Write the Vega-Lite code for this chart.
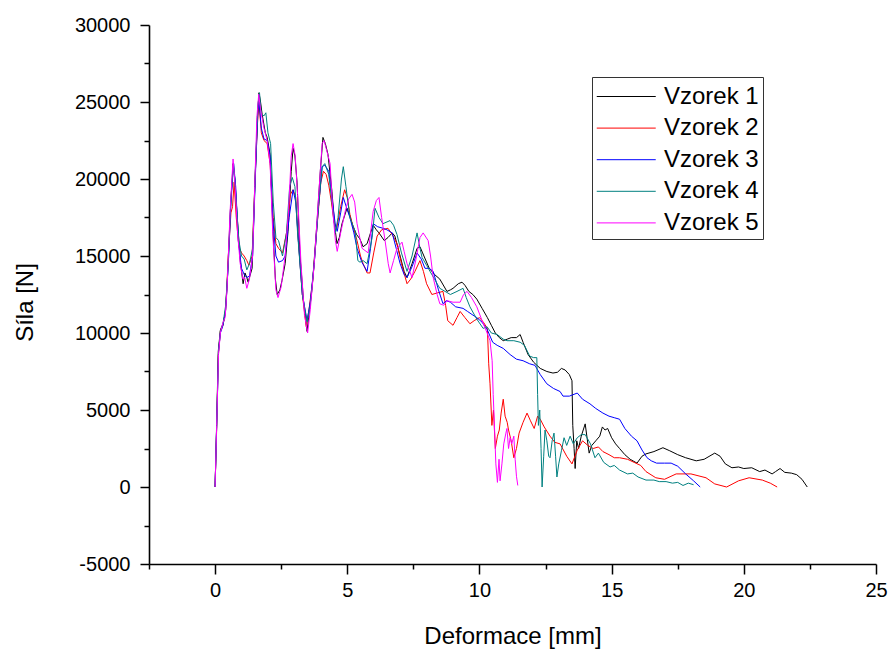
{
"$schema":"https://vega.github.io/schema/vega-lite/v6.json",
"width":727,"height":539,
"autosize":{"type":"none"},
"padding":{"left":149,"top":25,"right":15,"bottom":86},
"background":"white",
"config":{"view":{"stroke":null},"font":"Liberation Sans"},
"data":{"values":[
{"s":"Vzorek 1","x":0,"y":0},{"s":"Vzorek 1","x":0.06,"y":4200},{"s":"Vzorek 1","x":0.12,"y":8800},{"s":"Vzorek 1","x":0.2,"y":10200},{"s":"Vzorek 1","x":0.3,"y":10600},{"s":"Vzorek 1","x":0.38,"y":11200},{"s":"Vzorek 1","x":0.45,"y":12900},{"s":"Vzorek 1","x":0.57,"y":17700},{"s":"Vzorek 1","x":0.68,"y":21000},{"s":"Vzorek 1","x":0.75,"y":20000},{"s":"Vzorek 1","x":0.83,"y":17700},{"s":"Vzorek 1","x":0.95,"y":14700},{"s":"Vzorek 1","x":1.06,"y":13200},{"s":"Vzorek 1","x":1.13,"y":13900},{"s":"Vzorek 1","x":1.2,"y":13600},{"s":"Vzorek 1","x":1.25,"y":13300},{"s":"Vzorek 1","x":1.4,"y":14200},{"s":"Vzorek 1","x":1.51,"y":19800},{"s":"Vzorek 1","x":1.6,"y":24000},{"s":"Vzorek 1","x":1.66,"y":25600},{"s":"Vzorek 1","x":1.72,"y":25000},{"s":"Vzorek 1","x":1.78,"y":24200},{"s":"Vzorek 1","x":1.9,"y":23000},{"s":"Vzorek 1","x":1.97,"y":22700},{"s":"Vzorek 1","x":2.08,"y":21600},{"s":"Vzorek 1","x":2.19,"y":16600},{"s":"Vzorek 1","x":2.28,"y":13500},{"s":"Vzorek 1","x":2.35,"y":12500},{"s":"Vzorek 1","x":2.45,"y":12800},{"s":"Vzorek 1","x":2.53,"y":13400},{"s":"Vzorek 1","x":2.65,"y":14500},{"s":"Vzorek 1","x":2.76,"y":16600},{"s":"Vzorek 1","x":2.88,"y":20500},{"s":"Vzorek 1","x":2.95,"y":22000},{"s":"Vzorek 1","x":3.02,"y":21500},{"s":"Vzorek 1","x":3.1,"y":19800},{"s":"Vzorek 1","x":3.21,"y":15100},{"s":"Vzorek 1","x":3.35,"y":12000},{"s":"Vzorek 1","x":3.48,"y":10100},{"s":"Vzorek 1","x":3.57,"y":11500},{"s":"Vzorek 1","x":3.67,"y":12900},{"s":"Vzorek 1","x":3.86,"y":17300},{"s":"Vzorek 1","x":3.98,"y":20500},{"s":"Vzorek 1","x":4.08,"y":22700},{"s":"Vzorek 1","x":4.17,"y":22300},{"s":"Vzorek 1","x":4.27,"y":21600},{"s":"Vzorek 1","x":4.42,"y":19200},{"s":"Vzorek 1","x":4.52,"y":17000},{"s":"Vzorek 1","x":4.61,"y":15800},{"s":"Vzorek 1","x":4.7,"y":16200},{"s":"Vzorek 1","x":4.8,"y":17100},{"s":"Vzorek 1","x":4.99,"y":18100},{"s":"Vzorek 1","x":5.1,"y":17600},{"s":"Vzorek 1","x":5.2,"y":17000},{"s":"Vzorek 1","x":5.35,"y":16400},{"s":"Vzorek 1","x":5.48,"y":16100},{"s":"Vzorek 1","x":5.6,"y":15600},{"s":"Vzorek 1","x":5.75,"y":15800},{"s":"Vzorek 1","x":5.88,"y":16500},{"s":"Vzorek 1","x":5.98,"y":17000},{"s":"Vzorek 1","x":6.1,"y":16700},{"s":"Vzorek 1","x":6.2,"y":16500},{"s":"Vzorek 1","x":6.4,"y":16000},{"s":"Vzorek 1","x":6.54,"y":16200},{"s":"Vzorek 1","x":6.7,"y":16500},{"s":"Vzorek 1","x":6.8,"y":16300},{"s":"Vzorek 1","x":7.0,"y":15000},{"s":"Vzorek 1","x":7.15,"y":14000},{"s":"Vzorek 1","x":7.26,"y":13600},{"s":"Vzorek 1","x":7.45,"y":14500},{"s":"Vzorek 1","x":7.64,"y":15500},{"s":"Vzorek 1","x":7.75,"y":15600},{"s":"Vzorek 1","x":7.85,"y":15200},{"s":"Vzorek 1","x":8.1,"y":14200},{"s":"Vzorek 1","x":8.3,"y":13800},{"s":"Vzorek 1","x":8.5,"y":13500},{"s":"Vzorek 1","x":8.77,"y":12700},{"s":"Vzorek 1","x":8.9,"y":12800},{"s":"Vzorek 1","x":9.0,"y":12900},{"s":"Vzorek 1","x":9.2,"y":13200},{"s":"Vzorek 1","x":9.34,"y":13300},{"s":"Vzorek 1","x":9.45,"y":13100},{"s":"Vzorek 1","x":9.6,"y":12700},{"s":"Vzorek 1","x":9.75,"y":12500},{"s":"Vzorek 1","x":9.9,"y":12200},{"s":"Vzorek 1","x":10.1,"y":11600},{"s":"Vzorek 1","x":10.3,"y":11000},{"s":"Vzorek 1","x":10.45,"y":10500},{"s":"Vzorek 1","x":10.6,"y":10000},{"s":"Vzorek 1","x":10.75,"y":9700},{"s":"Vzorek 1","x":10.9,"y":9500},{"s":"Vzorek 1","x":11.05,"y":9600},{"s":"Vzorek 1","x":11.2,"y":9700},{"s":"Vzorek 1","x":11.4,"y":9700},{"s":"Vzorek 1","x":11.54,"y":9900},{"s":"Vzorek 1","x":11.65,"y":9400},{"s":"Vzorek 1","x":11.84,"y":8600},{"s":"Vzorek 1","x":12.05,"y":8100},{"s":"Vzorek 1","x":12.3,"y":7700},{"s":"Vzorek 1","x":12.55,"y":7500},{"s":"Vzorek 1","x":12.78,"y":7400},{"s":"Vzorek 1","x":12.95,"y":7450},{"s":"Vzorek 1","x":13.1,"y":7700},{"s":"Vzorek 1","x":13.24,"y":7600},{"s":"Vzorek 1","x":13.4,"y":7300},{"s":"Vzorek 1","x":13.5,"y":6900},{"s":"Vzorek 1","x":13.53,"y":4000},{"s":"Vzorek 1","x":13.58,"y":2500},{"s":"Vzorek 1","x":13.62,"y":1200},{"s":"Vzorek 1","x":13.68,"y":3000},{"s":"Vzorek 1","x":13.75,"y":2500},{"s":"Vzorek 1","x":13.85,"y":3300},{"s":"Vzorek 1","x":14.0,"y":4100},{"s":"Vzorek 1","x":14.07,"y":3200},{"s":"Vzorek 1","x":14.15,"y":2200},{"s":"Vzorek 1","x":14.25,"y":2700},{"s":"Vzorek 1","x":14.4,"y":3000},{"s":"Vzorek 1","x":14.55,"y":3300},{"s":"Vzorek 1","x":14.65,"y":3900},{"s":"Vzorek 1","x":14.75,"y":3700},{"s":"Vzorek 1","x":14.85,"y":3800},{"s":"Vzorek 1","x":15.0,"y":3200},{"s":"Vzorek 1","x":15.15,"y":2800},{"s":"Vzorek 1","x":15.3,"y":2500},{"s":"Vzorek 1","x":15.5,"y":2100},{"s":"Vzorek 1","x":15.7,"y":1800},{"s":"Vzorek 1","x":15.96,"y":1550},{"s":"Vzorek 1","x":16.15,"y":2000},{"s":"Vzorek 1","x":16.3,"y":2150},{"s":"Vzorek 1","x":16.6,"y":2300},{"s":"Vzorek 1","x":16.94,"y":2550},{"s":"Vzorek 1","x":17.2,"y":2350},{"s":"Vzorek 1","x":17.5,"y":2100},{"s":"Vzorek 1","x":17.8,"y":1900},{"s":"Vzorek 1","x":18.2,"y":1700},{"s":"Vzorek 1","x":18.5,"y":1800},{"s":"Vzorek 1","x":18.9,"y":2200},{"s":"Vzorek 1","x":19.1,"y":2000},{"s":"Vzorek 1","x":19.3,"y":1500},{"s":"Vzorek 1","x":19.55,"y":1250},{"s":"Vzorek 1","x":19.8,"y":1300},{"s":"Vzorek 1","x":20.0,"y":1200},{"s":"Vzorek 1","x":20.3,"y":1250},{"s":"Vzorek 1","x":20.6,"y":1000},{"s":"Vzorek 1","x":20.8,"y":1100},{"s":"Vzorek 1","x":21.07,"y":850},{"s":"Vzorek 1","x":21.2,"y":1000},{"s":"Vzorek 1","x":21.37,"y":1200},{"s":"Vzorek 1","x":21.55,"y":950},{"s":"Vzorek 1","x":21.8,"y":900},{"s":"Vzorek 1","x":22.0,"y":800},{"s":"Vzorek 1","x":22.2,"y":500},{"s":"Vzorek 1","x":22.4,"y":0},
{"s":"Vzorek 2","x":0,"y":0},{"s":"Vzorek 2","x":0.06,"y":3800},{"s":"Vzorek 2","x":0.12,"y":8500},{"s":"Vzorek 2","x":0.2,"y":10100},{"s":"Vzorek 2","x":0.3,"y":10500},{"s":"Vzorek 2","x":0.4,"y":11500},{"s":"Vzorek 2","x":0.5,"y":15000},{"s":"Vzorek 2","x":0.6,"y":17800},{"s":"Vzorek 2","x":0.66,"y":18200},{"s":"Vzorek 2","x":0.72,"y":19800},{"s":"Vzorek 2","x":0.8,"y":17500},{"s":"Vzorek 2","x":0.9,"y":15600},{"s":"Vzorek 2","x":1.0,"y":15200},{"s":"Vzorek 2","x":1.1,"y":15000},{"s":"Vzorek 2","x":1.2,"y":14700},{"s":"Vzorek 2","x":1.28,"y":14400},{"s":"Vzorek 2","x":1.4,"y":15000},{"s":"Vzorek 2","x":1.5,"y":19500},{"s":"Vzorek 2","x":1.6,"y":23500},{"s":"Vzorek 2","x":1.66,"y":25000},{"s":"Vzorek 2","x":1.75,"y":23000},{"s":"Vzorek 2","x":1.85,"y":22500},{"s":"Vzorek 2","x":1.97,"y":22300},{"s":"Vzorek 2","x":2.08,"y":21000},{"s":"Vzorek 2","x":2.2,"y":17500},{"s":"Vzorek 2","x":2.3,"y":15800},{"s":"Vzorek 2","x":2.4,"y":15500},{"s":"Vzorek 2","x":2.55,"y":15200},{"s":"Vzorek 2","x":2.7,"y":16500},{"s":"Vzorek 2","x":2.85,"y":19000},{"s":"Vzorek 2","x":2.95,"y":19300},{"s":"Vzorek 2","x":3.05,"y":18800},{"s":"Vzorek 2","x":3.15,"y":16000},{"s":"Vzorek 2","x":3.3,"y":12500},{"s":"Vzorek 2","x":3.45,"y":10400},{"s":"Vzorek 2","x":3.55,"y":11500},{"s":"Vzorek 2","x":3.7,"y":13500},{"s":"Vzorek 2","x":3.86,"y":17000},{"s":"Vzorek 2","x":4.0,"y":19800},{"s":"Vzorek 2","x":4.1,"y":20500},{"s":"Vzorek 2","x":4.2,"y":20300},{"s":"Vzorek 2","x":4.3,"y":19600},{"s":"Vzorek 2","x":4.4,"y":18500},{"s":"Vzorek 2","x":4.5,"y":17200},{"s":"Vzorek 2","x":4.6,"y":16800},{"s":"Vzorek 2","x":4.75,"y":18200},{"s":"Vzorek 2","x":4.9,"y":19300},{"s":"Vzorek 2","x":5.0,"y":18800},{"s":"Vzorek 2","x":5.1,"y":17700},{"s":"Vzorek 2","x":5.25,"y":16700},{"s":"Vzorek 2","x":5.37,"y":16000},{"s":"Vzorek 2","x":5.5,"y":15000},{"s":"Vzorek 2","x":5.6,"y":14500},{"s":"Vzorek 2","x":5.75,"y":13900},{"s":"Vzorek 2","x":5.86,"y":13900},{"s":"Vzorek 2","x":6.0,"y":15200},{"s":"Vzorek 2","x":6.13,"y":16300},{"s":"Vzorek 2","x":6.3,"y":16700},{"s":"Vzorek 2","x":6.54,"y":16800},{"s":"Vzorek 2","x":6.7,"y":16400},{"s":"Vzorek 2","x":6.88,"y":15800},{"s":"Vzorek 2","x":7.05,"y":14500},{"s":"Vzorek 2","x":7.26,"y":13200},{"s":"Vzorek 2","x":7.4,"y":13500},{"s":"Vzorek 2","x":7.56,"y":14000},{"s":"Vzorek 2","x":7.75,"y":14700},{"s":"Vzorek 2","x":7.88,"y":14000},{"s":"Vzorek 2","x":8.0,"y":13200},{"s":"Vzorek 2","x":8.2,"y":12500},{"s":"Vzorek 2","x":8.4,"y":12600},{"s":"Vzorek 2","x":8.62,"y":12700},{"s":"Vzorek 2","x":8.72,"y":11800},{"s":"Vzorek 2","x":8.8,"y":10800},{"s":"Vzorek 2","x":9.0,"y":10500},{"s":"Vzorek 2","x":9.15,"y":11000},{"s":"Vzorek 2","x":9.27,"y":11400},{"s":"Vzorek 2","x":9.45,"y":11000},{"s":"Vzorek 2","x":9.64,"y":10600},{"s":"Vzorek 2","x":9.8,"y":10800},{"s":"Vzorek 2","x":10.0,"y":11000},{"s":"Vzorek 2","x":10.15,"y":10700},{"s":"Vzorek 2","x":10.3,"y":10300},{"s":"Vzorek 2","x":10.35,"y":8000},{"s":"Vzorek 2","x":10.4,"y":6700},{"s":"Vzorek 2","x":10.47,"y":4000},{"s":"Vzorek 2","x":10.53,"y":5000},{"s":"Vzorek 2","x":10.6,"y":2500},{"s":"Vzorek 2","x":10.68,"y":3300},{"s":"Vzorek 2","x":10.75,"y":3700},{"s":"Vzorek 2","x":10.82,"y":4800},{"s":"Vzorek 2","x":10.9,"y":5700},{"s":"Vzorek 2","x":10.97,"y":4600},{"s":"Vzorek 2","x":11.05,"y":4200},{"s":"Vzorek 2","x":11.1,"y":3700},{"s":"Vzorek 2","x":11.2,"y":3000},{"s":"Vzorek 2","x":11.3,"y":1900},{"s":"Vzorek 2","x":11.4,"y":2500},{"s":"Vzorek 2","x":11.5,"y":3500},{"s":"Vzorek 2","x":11.65,"y":4200},{"s":"Vzorek 2","x":11.8,"y":4800},{"s":"Vzorek 2","x":11.93,"y":4300},{"s":"Vzorek 2","x":12.07,"y":3800},{"s":"Vzorek 2","x":12.2,"y":4600},{"s":"Vzorek 2","x":12.3,"y":4400},{"s":"Vzorek 2","x":12.45,"y":3900},{"s":"Vzorek 2","x":12.67,"y":3300},{"s":"Vzorek 2","x":12.85,"y":2900},{"s":"Vzorek 2","x":13.05,"y":2800},{"s":"Vzorek 2","x":13.3,"y":2000},{"s":"Vzorek 2","x":13.5,"y":1500},{"s":"Vzorek 2","x":13.7,"y":2400},{"s":"Vzorek 2","x":13.9,"y":3000},{"s":"Vzorek 2","x":14.1,"y":2700},{"s":"Vzorek 2","x":14.3,"y":2500},{"s":"Vzorek 2","x":14.5,"y":2600},{"s":"Vzorek 2","x":14.67,"y":2300},{"s":"Vzorek 2","x":14.9,"y":2100},{"s":"Vzorek 2","x":15.1,"y":1900},{"s":"Vzorek 2","x":15.3,"y":1900},{"s":"Vzorek 2","x":15.6,"y":1800},{"s":"Vzorek 2","x":15.85,"y":1600},{"s":"Vzorek 2","x":16.1,"y":1400},{"s":"Vzorek 2","x":16.3,"y":1000},{"s":"Vzorek 2","x":16.67,"y":600},{"s":"Vzorek 2","x":17.0,"y":500},{"s":"Vzorek 2","x":17.44,"y":850},{"s":"Vzorek 2","x":18.0,"y":850},{"s":"Vzorek 2","x":18.57,"y":600},{"s":"Vzorek 2","x":18.9,"y":200},{"s":"Vzorek 2","x":19.35,"y":0},{"s":"Vzorek 2","x":19.8,"y":400},{"s":"Vzorek 2","x":20.2,"y":600},{"s":"Vzorek 2","x":20.7,"y":450},{"s":"Vzorek 2","x":21.0,"y":250},{"s":"Vzorek 2","x":21.26,"y":0},
{"s":"Vzorek 3","x":0,"y":0},{"s":"Vzorek 3","x":0.06,"y":4000},{"s":"Vzorek 3","x":0.13,"y":8800},{"s":"Vzorek 3","x":0.2,"y":10000},{"s":"Vzorek 3","x":0.3,"y":10500},{"s":"Vzorek 3","x":0.4,"y":11500},{"s":"Vzorek 3","x":0.5,"y":14500},{"s":"Vzorek 3","x":0.6,"y":18500},{"s":"Vzorek 3","x":0.7,"y":21000},{"s":"Vzorek 3","x":0.78,"y":19500},{"s":"Vzorek 3","x":0.88,"y":16000},{"s":"Vzorek 3","x":1.0,"y":14200},{"s":"Vzorek 3","x":1.1,"y":13800},{"s":"Vzorek 3","x":1.2,"y":13600},{"s":"Vzorek 3","x":1.3,"y":13700},{"s":"Vzorek 3","x":1.42,"y":15000},{"s":"Vzorek 3","x":1.52,"y":20000},{"s":"Vzorek 3","x":1.62,"y":24500},{"s":"Vzorek 3","x":1.66,"y":25000},{"s":"Vzorek 3","x":1.75,"y":23300},{"s":"Vzorek 3","x":1.85,"y":22600},{"s":"Vzorek 3","x":1.97,"y":22500},{"s":"Vzorek 3","x":2.08,"y":21500},{"s":"Vzorek 3","x":2.18,"y":17500},{"s":"Vzorek 3","x":2.3,"y":15000},{"s":"Vzorek 3","x":2.4,"y":14600},{"s":"Vzorek 3","x":2.55,"y":14700},{"s":"Vzorek 3","x":2.65,"y":15000},{"s":"Vzorek 3","x":2.8,"y":17500},{"s":"Vzorek 3","x":2.95,"y":19300},{"s":"Vzorek 3","x":3.05,"y":18500},{"s":"Vzorek 3","x":3.15,"y":16000},{"s":"Vzorek 3","x":3.3,"y":12500},{"s":"Vzorek 3","x":3.48,"y":10800},{"s":"Vzorek 3","x":3.6,"y":12000},{"s":"Vzorek 3","x":3.75,"y":14500},{"s":"Vzorek 3","x":3.9,"y":18000},{"s":"Vzorek 3","x":4.05,"y":20800},{"s":"Vzorek 3","x":4.15,"y":20900},{"s":"Vzorek 3","x":4.3,"y":20500},{"s":"Vzorek 3","x":4.42,"y":18800},{"s":"Vzorek 3","x":4.55,"y":17000},{"s":"Vzorek 3","x":4.62,"y":16600},{"s":"Vzorek 3","x":4.75,"y":17800},{"s":"Vzorek 3","x":4.85,"y":18800},{"s":"Vzorek 3","x":5.0,"y":18000},{"s":"Vzorek 3","x":5.1,"y":17500},{"s":"Vzorek 3","x":5.25,"y":16500},{"s":"Vzorek 3","x":5.37,"y":15500},{"s":"Vzorek 3","x":5.55,"y":14600},{"s":"Vzorek 3","x":5.75,"y":14000},{"s":"Vzorek 3","x":5.88,"y":15500},{"s":"Vzorek 3","x":5.98,"y":17100},{"s":"Vzorek 3","x":6.15,"y":16900},{"s":"Vzorek 3","x":6.35,"y":16800},{"s":"Vzorek 3","x":6.5,"y":16700},{"s":"Vzorek 3","x":6.7,"y":16500},{"s":"Vzorek 3","x":6.85,"y":15500},{"s":"Vzorek 3","x":7.0,"y":14500},{"s":"Vzorek 3","x":7.15,"y":13800},{"s":"Vzorek 3","x":7.26,"y":13600},{"s":"Vzorek 3","x":7.45,"y":14300},{"s":"Vzorek 3","x":7.64,"y":15200},{"s":"Vzorek 3","x":7.8,"y":14800},{"s":"Vzorek 3","x":7.94,"y":14200},{"s":"Vzorek 3","x":8.1,"y":14200},{"s":"Vzorek 3","x":8.25,"y":14000},{"s":"Vzorek 3","x":8.45,"y":12800},{"s":"Vzorek 3","x":8.62,"y":11900},{"s":"Vzorek 3","x":8.75,"y":12100},{"s":"Vzorek 3","x":8.9,"y":12000},{"s":"Vzorek 3","x":9.1,"y":11700},{"s":"Vzorek 3","x":9.38,"y":11600},{"s":"Vzorek 3","x":9.55,"y":11400},{"s":"Vzorek 3","x":9.72,"y":11200},{"s":"Vzorek 3","x":9.9,"y":11000},{"s":"Vzorek 3","x":10.1,"y":10700},{"s":"Vzorek 3","x":10.3,"y":10200},{"s":"Vzorek 3","x":10.5,"y":9400},{"s":"Vzorek 3","x":10.67,"y":9200},{"s":"Vzorek 3","x":10.9,"y":9000},{"s":"Vzorek 3","x":11.16,"y":8600},{"s":"Vzorek 3","x":11.4,"y":8300},{"s":"Vzorek 3","x":11.65,"y":8200},{"s":"Vzorek 3","x":11.9,"y":8000},{"s":"Vzorek 3","x":12.1,"y":7900},{"s":"Vzorek 3","x":12.3,"y":7300},{"s":"Vzorek 3","x":12.55,"y":6700},{"s":"Vzorek 3","x":12.8,"y":6400},{"s":"Vzorek 3","x":13.05,"y":6200},{"s":"Vzorek 3","x":13.16,"y":5900},{"s":"Vzorek 3","x":13.4,"y":5900},{"s":"Vzorek 3","x":13.7,"y":6100},{"s":"Vzorek 3","x":13.9,"y":5700},{"s":"Vzorek 3","x":14.18,"y":5400},{"s":"Vzorek 3","x":14.4,"y":5100},{"s":"Vzorek 3","x":14.67,"y":4800},{"s":"Vzorek 3","x":14.9,"y":4600},{"s":"Vzorek 3","x":15.1,"y":4500},{"s":"Vzorek 3","x":15.3,"y":4400},{"s":"Vzorek 3","x":15.5,"y":3800},{"s":"Vzorek 3","x":15.75,"y":3300},{"s":"Vzorek 3","x":15.96,"y":3000},{"s":"Vzorek 3","x":16.15,"y":2400},{"s":"Vzorek 3","x":16.34,"y":1900},{"s":"Vzorek 3","x":16.5,"y":1700},{"s":"Vzorek 3","x":16.7,"y":1550},{"s":"Vzorek 3","x":17.0,"y":1550},{"s":"Vzorek 3","x":17.25,"y":1550},{"s":"Vzorek 3","x":17.5,"y":1350},{"s":"Vzorek 3","x":17.8,"y":850},{"s":"Vzorek 3","x":18.1,"y":400},{"s":"Vzorek 3","x":18.35,"y":0},
{"s":"Vzorek 4","x":0,"y":0},{"s":"Vzorek 4","x":0.06,"y":4000},{"s":"Vzorek 4","x":0.13,"y":8800},{"s":"Vzorek 4","x":0.2,"y":10100},{"s":"Vzorek 4","x":0.3,"y":10600},{"s":"Vzorek 4","x":0.4,"y":11800},{"s":"Vzorek 4","x":0.5,"y":14500},{"s":"Vzorek 4","x":0.6,"y":18800},{"s":"Vzorek 4","x":0.7,"y":21000},{"s":"Vzorek 4","x":0.8,"y":18500},{"s":"Vzorek 4","x":0.9,"y":16000},{"s":"Vzorek 4","x":1.0,"y":15000},{"s":"Vzorek 4","x":1.1,"y":14800},{"s":"Vzorek 4","x":1.2,"y":14100},{"s":"Vzorek 4","x":1.3,"y":14500},{"s":"Vzorek 4","x":1.42,"y":15500},{"s":"Vzorek 4","x":1.52,"y":20500},{"s":"Vzorek 4","x":1.62,"y":24800},{"s":"Vzorek 4","x":1.68,"y":25600},{"s":"Vzorek 4","x":1.75,"y":24200},{"s":"Vzorek 4","x":1.85,"y":24100},{"s":"Vzorek 4","x":1.92,"y":24300},{"s":"Vzorek 4","x":2.0,"y":23000},{"s":"Vzorek 4","x":2.1,"y":22300},{"s":"Vzorek 4","x":2.2,"y":18500},{"s":"Vzorek 4","x":2.3,"y":16200},{"s":"Vzorek 4","x":2.4,"y":16000},{"s":"Vzorek 4","x":2.55,"y":15000},{"s":"Vzorek 4","x":2.7,"y":16500},{"s":"Vzorek 4","x":2.82,"y":19500},{"s":"Vzorek 4","x":2.92,"y":20100},{"s":"Vzorek 4","x":3.02,"y":19500},{"s":"Vzorek 4","x":3.12,"y":16500},{"s":"Vzorek 4","x":3.3,"y":12500},{"s":"Vzorek 4","x":3.48,"y":10700},{"s":"Vzorek 4","x":3.6,"y":11800},{"s":"Vzorek 4","x":3.75,"y":14500},{"s":"Vzorek 4","x":3.9,"y":18000},{"s":"Vzorek 4","x":4.05,"y":20800},{"s":"Vzorek 4","x":4.15,"y":21000},{"s":"Vzorek 4","x":4.3,"y":20300},{"s":"Vzorek 4","x":4.42,"y":18500},{"s":"Vzorek 4","x":4.55,"y":16500},{"s":"Vzorek 4","x":4.65,"y":17500},{"s":"Vzorek 4","x":4.78,"y":20000},{"s":"Vzorek 4","x":4.85,"y":20800},{"s":"Vzorek 4","x":4.95,"y":19500},{"s":"Vzorek 4","x":5.1,"y":17500},{"s":"Vzorek 4","x":5.3,"y":16600},{"s":"Vzorek 4","x":5.4,"y":14700},{"s":"Vzorek 4","x":5.48,"y":14600},{"s":"Vzorek 4","x":5.6,"y":14700},{"s":"Vzorek 4","x":5.75,"y":14500},{"s":"Vzorek 4","x":5.94,"y":16200},{"s":"Vzorek 4","x":6.05,"y":18100},{"s":"Vzorek 4","x":6.2,"y":17500},{"s":"Vzorek 4","x":6.35,"y":17100},{"s":"Vzorek 4","x":6.62,"y":17300},{"s":"Vzorek 4","x":6.75,"y":17000},{"s":"Vzorek 4","x":6.88,"y":16400},{"s":"Vzorek 4","x":7.05,"y":15200},{"s":"Vzorek 4","x":7.26,"y":14000},{"s":"Vzorek 4","x":7.45,"y":15000},{"s":"Vzorek 4","x":7.64,"y":16500},{"s":"Vzorek 4","x":7.75,"y":15500},{"s":"Vzorek 4","x":7.83,"y":14900},{"s":"Vzorek 4","x":8.0,"y":14400},{"s":"Vzorek 4","x":8.13,"y":14000},{"s":"Vzorek 4","x":8.3,"y":13500},{"s":"Vzorek 4","x":8.5,"y":12900},{"s":"Vzorek 4","x":8.7,"y":12700},{"s":"Vzorek 4","x":8.9,"y":12500},{"s":"Vzorek 4","x":9.15,"y":12700},{"s":"Vzorek 4","x":9.38,"y":12900},{"s":"Vzorek 4","x":9.5,"y":12300},{"s":"Vzorek 4","x":9.64,"y":11700},{"s":"Vzorek 4","x":9.9,"y":10900},{"s":"Vzorek 4","x":10.14,"y":10300},{"s":"Vzorek 4","x":10.29,"y":10400},{"s":"Vzorek 4","x":10.45,"y":10000},{"s":"Vzorek 4","x":10.67,"y":9900},{"s":"Vzorek 4","x":10.9,"y":9600},{"s":"Vzorek 4","x":11.04,"y":9500},{"s":"Vzorek 4","x":11.3,"y":9500},{"s":"Vzorek 4","x":11.54,"y":9400},{"s":"Vzorek 4","x":11.7,"y":9200},{"s":"Vzorek 4","x":11.9,"y":8500},{"s":"Vzorek 4","x":12.05,"y":8400},{"s":"Vzorek 4","x":12.17,"y":8400},{"s":"Vzorek 4","x":12.2,"y":6000},{"s":"Vzorek 4","x":12.23,"y":4000},{"s":"Vzorek 4","x":12.28,"y":5000},{"s":"Vzorek 4","x":12.33,"y":2500},{"s":"Vzorek 4","x":12.37,"y":0},{"s":"Vzorek 4","x":12.43,"y":2000},{"s":"Vzorek 4","x":12.48,"y":3700},{"s":"Vzorek 4","x":12.55,"y":3000},{"s":"Vzorek 4","x":12.62,"y":2000},{"s":"Vzorek 4","x":12.67,"y":1900},{"s":"Vzorek 4","x":12.75,"y":3000},{"s":"Vzorek 4","x":12.82,"y":3500},{"s":"Vzorek 4","x":12.88,"y":2000},{"s":"Vzorek 4","x":12.93,"y":650},{"s":"Vzorek 4","x":13.0,"y":1500},{"s":"Vzorek 4","x":13.1,"y":2350},{"s":"Vzorek 4","x":13.2,"y":3200},{"s":"Vzorek 4","x":13.3,"y":2700},{"s":"Vzorek 4","x":13.43,"y":3300},{"s":"Vzorek 4","x":13.55,"y":2800},{"s":"Vzorek 4","x":13.7,"y":3200},{"s":"Vzorek 4","x":13.85,"y":3400},{"s":"Vzorek 4","x":14.0,"y":3400},{"s":"Vzorek 4","x":14.2,"y":2800},{"s":"Vzorek 4","x":14.37,"y":1900},{"s":"Vzorek 4","x":14.5,"y":2200},{"s":"Vzorek 4","x":14.7,"y":1600},{"s":"Vzorek 4","x":14.94,"y":1300},{"s":"Vzorek 4","x":15.1,"y":1400},{"s":"Vzorek 4","x":15.3,"y":1100},{"s":"Vzorek 4","x":15.6,"y":850},{"s":"Vzorek 4","x":15.8,"y":900},{"s":"Vzorek 4","x":16.0,"y":650},{"s":"Vzorek 4","x":16.3,"y":450},{"s":"Vzorek 4","x":16.6,"y":450},{"s":"Vzorek 4","x":16.8,"y":350},{"s":"Vzorek 4","x":17.06,"y":350},{"s":"Vzorek 4","x":17.3,"y":250},{"s":"Vzorek 4","x":17.5,"y":300},{"s":"Vzorek 4","x":17.7,"y":100},{"s":"Vzorek 4","x":17.9,"y":250},{"s":"Vzorek 4","x":18.1,"y":150},
{"s":"Vzorek 5","x":0,"y":0},{"s":"Vzorek 5","x":0.06,"y":4000},{"s":"Vzorek 5","x":0.13,"y":8600},{"s":"Vzorek 5","x":0.2,"y":10000},{"s":"Vzorek 5","x":0.3,"y":10700},{"s":"Vzorek 5","x":0.38,"y":11000},{"s":"Vzorek 5","x":0.45,"y":12800},{"s":"Vzorek 5","x":0.57,"y":18000},{"s":"Vzorek 5","x":0.68,"y":21300},{"s":"Vzorek 5","x":0.76,"y":19500},{"s":"Vzorek 5","x":0.85,"y":16500},{"s":"Vzorek 5","x":0.95,"y":14500},{"s":"Vzorek 5","x":1.05,"y":13500},{"s":"Vzorek 5","x":1.12,"y":13600},{"s":"Vzorek 5","x":1.2,"y":12900},{"s":"Vzorek 5","x":1.3,"y":13500},{"s":"Vzorek 5","x":1.42,"y":15000},{"s":"Vzorek 5","x":1.5,"y":19500},{"s":"Vzorek 5","x":1.58,"y":24000},{"s":"Vzorek 5","x":1.65,"y":25500},{"s":"Vzorek 5","x":1.72,"y":24500},{"s":"Vzorek 5","x":1.85,"y":23300},{"s":"Vzorek 5","x":1.97,"y":22500},{"s":"Vzorek 5","x":2.08,"y":21000},{"s":"Vzorek 5","x":2.18,"y":16500},{"s":"Vzorek 5","x":2.3,"y":12800},{"s":"Vzorek 5","x":2.38,"y":12300},{"s":"Vzorek 5","x":2.5,"y":13000},{"s":"Vzorek 5","x":2.65,"y":15000},{"s":"Vzorek 5","x":2.78,"y":18000},{"s":"Vzorek 5","x":2.88,"y":21500},{"s":"Vzorek 5","x":2.95,"y":22300},{"s":"Vzorek 5","x":3.03,"y":21500},{"s":"Vzorek 5","x":3.12,"y":19000},{"s":"Vzorek 5","x":3.25,"y":14500},{"s":"Vzorek 5","x":3.38,"y":11200},{"s":"Vzorek 5","x":3.5,"y":10000},{"s":"Vzorek 5","x":3.6,"y":11500},{"s":"Vzorek 5","x":3.75,"y":14500},{"s":"Vzorek 5","x":3.9,"y":18500},{"s":"Vzorek 5","x":4.05,"y":22300},{"s":"Vzorek 5","x":4.12,"y":22500},{"s":"Vzorek 5","x":4.2,"y":22000},{"s":"Vzorek 5","x":4.35,"y":21000},{"s":"Vzorek 5","x":4.45,"y":18000},{"s":"Vzorek 5","x":4.55,"y":16000},{"s":"Vzorek 5","x":4.62,"y":15300},{"s":"Vzorek 5","x":4.75,"y":16500},{"s":"Vzorek 5","x":4.92,"y":17900},{"s":"Vzorek 5","x":5.05,"y":18700},{"s":"Vzorek 5","x":5.18,"y":19000},{"s":"Vzorek 5","x":5.28,"y":18500},{"s":"Vzorek 5","x":5.37,"y":17100},{"s":"Vzorek 5","x":5.46,"y":16300},{"s":"Vzorek 5","x":5.56,"y":15500},{"s":"Vzorek 5","x":5.79,"y":15200},{"s":"Vzorek 5","x":5.88,"y":16500},{"s":"Vzorek 5","x":5.98,"y":17900},{"s":"Vzorek 5","x":6.1,"y":18600},{"s":"Vzorek 5","x":6.2,"y":18800},{"s":"Vzorek 5","x":6.3,"y":17500},{"s":"Vzorek 5","x":6.43,"y":16000},{"s":"Vzorek 5","x":6.55,"y":14500},{"s":"Vzorek 5","x":6.62,"y":13900},{"s":"Vzorek 5","x":6.75,"y":14700},{"s":"Vzorek 5","x":6.88,"y":15500},{"s":"Vzorek 5","x":7.07,"y":15900},{"s":"Vzorek 5","x":7.15,"y":15300},{"s":"Vzorek 5","x":7.26,"y":14500},{"s":"Vzorek 5","x":7.45,"y":13600},{"s":"Vzorek 5","x":7.6,"y":14800},{"s":"Vzorek 5","x":7.75,"y":16200},{"s":"Vzorek 5","x":7.87,"y":16500},{"s":"Vzorek 5","x":8.06,"y":16000},{"s":"Vzorek 5","x":8.15,"y":15000},{"s":"Vzorek 5","x":8.25,"y":13600},{"s":"Vzorek 5","x":8.4,"y":12500},{"s":"Vzorek 5","x":8.5,"y":11900},{"s":"Vzorek 5","x":8.65,"y":11800},{"s":"Vzorek 5","x":8.77,"y":12100},{"s":"Vzorek 5","x":9.0,"y":12000},{"s":"Vzorek 5","x":9.27,"y":12000},{"s":"Vzorek 5","x":9.4,"y":12500},{"s":"Vzorek 5","x":9.53,"y":12700},{"s":"Vzorek 5","x":9.7,"y":12300},{"s":"Vzorek 5","x":9.9,"y":11700},{"s":"Vzorek 5","x":10.1,"y":10800},{"s":"Vzorek 5","x":10.29,"y":10000},{"s":"Vzorek 5","x":10.4,"y":9500},{"s":"Vzorek 5","x":10.48,"y":8200},{"s":"Vzorek 5","x":10.52,"y":6000},{"s":"Vzorek 5","x":10.56,"y":4300},{"s":"Vzorek 5","x":10.62,"y":1500},{"s":"Vzorek 5","x":10.68,"y":300},{"s":"Vzorek 5","x":10.74,"y":1800},{"s":"Vzorek 5","x":10.78,"y":400},{"s":"Vzorek 5","x":10.85,"y":1500},{"s":"Vzorek 5","x":10.92,"y":2800},{"s":"Vzorek 5","x":11.0,"y":3500},{"s":"Vzorek 5","x":11.04,"y":3800},{"s":"Vzorek 5","x":11.1,"y":2500},{"s":"Vzorek 5","x":11.16,"y":3200},{"s":"Vzorek 5","x":11.22,"y":2800},{"s":"Vzorek 5","x":11.3,"y":3300},{"s":"Vzorek 5","x":11.35,"y":1800},{"s":"Vzorek 5","x":11.4,"y":700},{"s":"Vzorek 5","x":11.45,"y":100}
]},
"mark":{"type":"line","strokeWidth":1,"clip":true},
"encoding":{
"x":{"field":"x","type":"quantitative","scale":{"domain":[-2.5,25],"nice":false,"zero":false},
 "axis":{"title":"Deformace [mm]","values":[-2.5,0,2.5,5,7.5,10,12.5,15,17.5,20,22.5,25],"labelExpr":"datum.value % 5 === 0 ? datum.label : ''","grid":false,"domainColor":"black","domainWidth":1.6,"tickColor":"black","tickWidth":1.5,"tickSize":{"condition":{"test":"datum.value % 5 !== 0","value":5},"value":10},"labelFontSize":20,"labelColor":"black","labelPadding":6,"labelFont":"Liberation Sans","titleFont":"Liberation Sans","titleFontSize":24,"titleFontWeight":"normal","titleColor":"black","titlePadding":24,"labelFlush":false}},
"y":{"field":"y","type":"quantitative","scale":{"domain":[-5000,30000],"nice":false,"zero":false},
 "axis":{"title":"Síla [N]","values":[-5000,-2500,0,2500,5000,7500,10000,12500,15000,17500,20000,22500,25000,27500,30000],"format":"d","labelExpr":"datum.value % 5000 === 0 ? replace(datum.label, '\u2212', '-') : ''","grid":false,"domainColor":"black","domainWidth":1.6,"tickColor":"black","tickWidth":1.5,"tickSize":{"condition":{"test":"datum.value % 5000 !== 0","value":5},"value":9},"labelFontSize":20,"labelColor":"black","labelPadding":10,"labelFont":"Liberation Sans","titleFont":"Liberation Sans","titleFontSize":24,"titleFontWeight":"normal","titleColor":"black","titlePadding":37,"titleY":277,"labelFlush":false}},
"color":{"field":"s","type":"nominal","scale":{"domain":["Vzorek 1","Vzorek 2","Vzorek 3","Vzorek 4","Vzorek 5"],"range":["#000000","#ff0000","#0000ff","#008080","#ff00ff"]},
 "legend":{"title":null,"orient":"none","legendX":443,"legendY":52,"strokeColor":"#333333","padding":4,"symbolType":"M-1,0H3","symbolSize":870,"symbolStrokeWidth":1,"labelFontSize":24,"labelFont":"Liberation Sans","labelColor":"black","labelOffset":37,"rowPadding":3.6,"labelLimit":300,"fillColor":"white"}}
}
}
